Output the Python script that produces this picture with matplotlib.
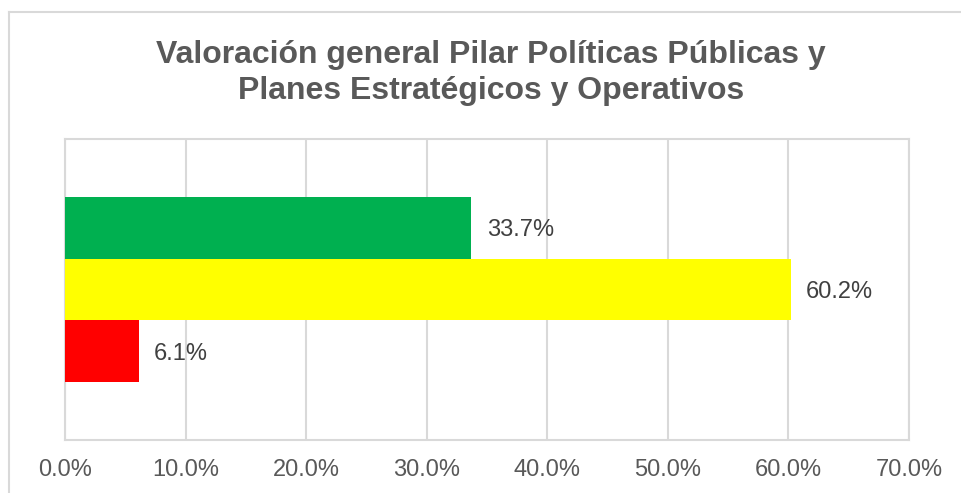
import matplotlib
matplotlib.use("Agg")
import matplotlib.pyplot as plt
from matplotlib.lines import Line2D

plt.rcParams['font.family'] = ['Liberation Sans', 'DejaVu Sans']

categories = ["Alto", "Medio", "Bajo"]
values = [33.7, 60.2, 6.1]
colors = ["#00B050", "#FFFF00", "#FF0000"]
xticks = [0, 10, 20, 30, 40, 50, 60, 70]
xtick_labels = ["0.0%", "10.0%", "20.0%", "30.0%", "40.0%", "50.0%", "60.0%", "70.0%"]
title = "Valoración general Pilar Políticas Públicas y\nPlanes Estratégicos y Operativos"

W, H = 961, 493
fig = plt.figure(figsize=(W / 100, H / 100), dpi=100)

# outer chart frame (top and left edges visible)
fig.add_artist(Line2D([9 / W, 9 / W], [0, 1 - 12 / H], transform=fig.transFigure, color="#d9d9d9", lw=1.5))
fig.add_artist(Line2D([9 / W, 1], [1 - 12 / H, 1 - 12 / H], transform=fig.transFigure, color="#d9d9d9", lw=1.5))

ax = fig.add_axes([65 / W, 1 - 440 / H, (909 - 65) / W, (440 - 139) / H])

ypos = [1, 0, -1]
ax.barh(ypos, values, height=1.0, color=colors, zorder=3)
for y, v in zip(ypos, values):
    ax.annotate(f"{v:.1f}%", xy=(v, y), xytext=(11, -2), textcoords="offset points",
                va="center", ha="left", fontsize=17, color="#404040")

ax.set_xlim(0, 70)
ax.set_ylim(-2.43, 2.43)
ax.set_xticks(xticks)
ax.set_xticklabels(xtick_labels, fontsize=17, color="#595959")
ax.set_yticks([])
ax.tick_params(axis="x", length=0, pad=14)
ax.grid(axis="x", color="#d9d9d9", lw=1.5, zorder=0)
for s in ax.spines.values():
    s.set_color("#d9d9d9")
    s.set_linewidth(1.5)

fig.text(491 / W, 1 - 73 / H, title, ha="center", va="center", fontsize=23,
         fontweight="bold", color="#595959", linespacing=1.22)

fig.savefig("out.png", dpi=100)
